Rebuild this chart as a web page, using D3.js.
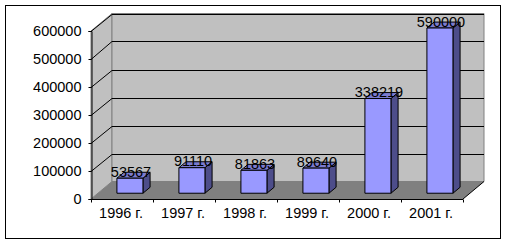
<!DOCTYPE html>
<html>
<head>
<meta charset="utf-8">
<script src="https://cdn.jsdelivr.net/npm/d3@7"></script>
<style>
  body { margin: 0; background: #fff; }
  svg { display: block; }
</style>
</head>
<body>
<script>
const years = ["1996 г.", "1997 г.", "1998 г.", "1999 г.", "2000 г.", "2001 г."]
const values = [53567, 91110, 81863, 89640, 338219, 590000]
const yTicks = [0, 100000, 200000, 300000, 400000, 500000, 600000]

const width = 506
const height = 244
const font = "Arial, 'Liberation Sans', sans-serif"

// front plane of the plot
const x0 = 91, x1 = 463
const yBase = 199, yTop = 31
// depth vector of the 3d box
const ddx = 21, ddy = -17.5
const t0 = 0.33, t1 = 0.67  // depth span of the bars

const x = d3.scaleBand().domain(years).range([x0, x1]).paddingInner(0.58).paddingOuter(0.29)
const y = d3.scaleLinear().domain([0, 600000]).range([yBase, yTop])

const svg = d3.select("body").append("svg")
  .attr("width", width)
  .attr("height", height)

svg.append("rect")
  .attr("x", 5.5).attr("y", 5.5)
  .attr("width", 495).attr("height", 233)
  .attr("fill", "#fff").attr("stroke", "#000")

const pt = (px, py, t) => [px + t * ddx, py + t * ddy]
const poly = pts => "M" + pts.map(p => p.join(",")).join("L") + "Z"

// left wall
svg.append("path")
  .attr("d", poly([pt(x0, y(600000), 0), pt(x0, y(600000), 1), pt(x0, y(0), 1), pt(x0, y(0), 0)]))
  .attr("fill", "#c0c0c0").attr("stroke", "#808080")

// back wall
svg.append("path")
  .attr("d", poly([pt(x0, y(600000), 1), pt(x1, y(600000), 1), pt(x1, y(0), 1), pt(x0, y(0), 1)]))
  .attr("fill", "#c0c0c0").attr("stroke", "#808080")

// floor
svg.append("path")
  .attr("d", poly([pt(x0, y(0), 0), pt(x0, y(0), 1), pt(x1, y(0), 1), pt(x1, y(0), 0)]))
  .attr("fill", "#808080").attr("stroke", "none")
svg.append("path")
  .attr("d", "M" + pt(x1, y(0), 1).join(",") + "L" + pt(x1, y(0), 0).join(","))
  .attr("stroke", "#000").attr("fill", "none")

// gridlines: back wall and left wall
const grid = svg.append("g").attr("stroke", "#000").attr("fill", "none")
yTicks.filter(d => d > 0).forEach(d => {
  const a = pt(x0, y(d) + 0.5, 0), b = pt(x0, y(d), 1), c = pt(x1, y(d), 1)
  grid.append("path")
    .attr("d", `M${a[0]},${a[1]}L${b[0]},${Math.round(b[1]) + 0.5}L${c[0]},${Math.round(c[1]) + 0.5}`)
})

// y axis
const yAxis = svg.append("g")
  .attr("transform", `translate(${x0 + 0.5},0)`)
  .call(d3.axisLeft(y).tickValues(yTicks).tickSize(3).tickPadding(7).tickFormat(d3.format("d")))
yAxis.select(".domain").attr("stroke", "#000")
yAxis.selectAll("text").attr("font-family", font).attr("font-size", 14.5).attr("fill", "#000")

// x axis
const xAxis = svg.append("g")
  .attr("transform", `translate(0,${yBase + 0.5})`)
xAxis.append("line").attr("x1", x0).attr("x2", x1).attr("stroke", "#000")
const step = x.step()
d3.range(years.length + 1).forEach(i => {
  xAxis.append("line")
    .attr("x1", Math.round(x0 + i * step) + 0.5).attr("x2", Math.round(x0 + i * step) + 0.5)
    .attr("y1", 0).attr("y2", 3).attr("stroke", "#000")
})
xAxis.selectAll("text.cat").data(years).join("text")
  .attr("class", "cat")
  .attr("x", d => x(d) + x.bandwidth() / 2 - 1)
  .attr("y", 18)
  .attr("text-anchor", "middle")
  .attr("font-family", font).attr("font-size", 14.5)
  .text(d => d)

// bars
const data = years.map((k, i) => ({ k, v: values[i] }))
const bars = svg.append("g").attr("stroke", "#000").attr("stroke-linejoin", "round")
data.forEach(d => {
  const l = x(d.k) + 1, r = x(d.k) + x.bandwidth() + 1
  const top = y(d.v), bot = y(0)
  const fTL = pt(l, top, t0), fTR = pt(r, top, t0), fBR = pt(r, bot, t0), fBL = pt(l, bot, t0)
  const bTL = pt(l, top, t1), bTR = pt(r, top, t1), bBR = pt(r, bot, t1)
  bars.append("path").attr("d", poly([fTR, bTR, bBR, fBR])).attr("fill", "#4d4d8a")
  bars.append("path").attr("d", poly([fTL, bTL, bTR, fTR])).attr("fill", "#7b7bd0")
  bars.append("path").attr("d", poly([fTL, fTR, fBR, fBL])).attr("fill", "#9999ff")
})

// value labels
svg.append("g").selectAll("text").data(data).join("text")
  .attr("x", d => x(d.k) + x.bandwidth() / 2 + 9)
  .attr("y", d => y(d.v) - 7)
  .attr("text-anchor", "middle")
  .attr("font-family", font).attr("font-size", 14.5)
  .attr("fill", "#000")
  .text(d => d.v)
</script>
</body>
</html>
